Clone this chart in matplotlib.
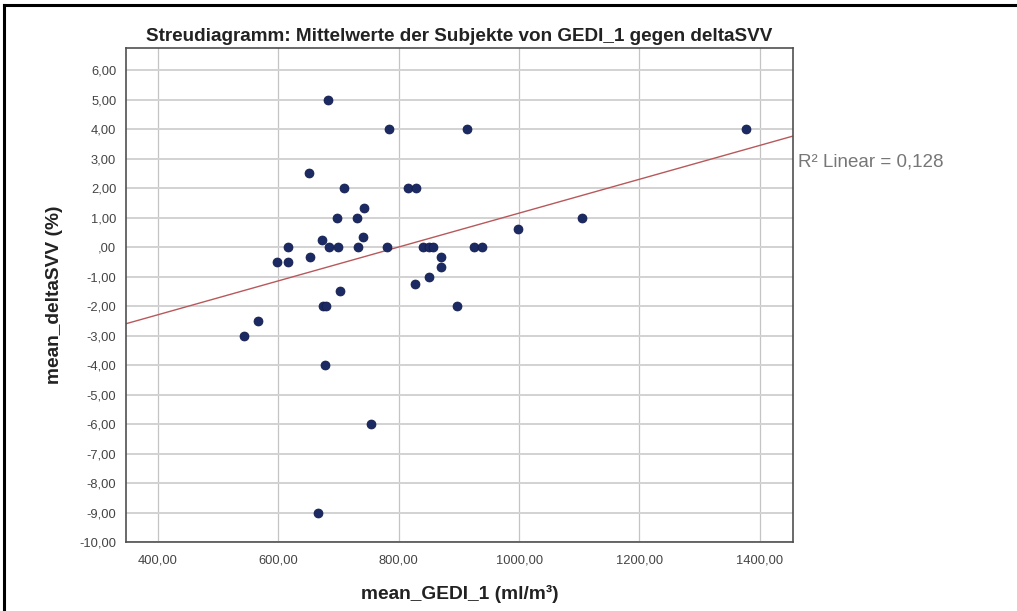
import numpy as np
import matplotlib
matplotlib.use("Agg")
import matplotlib.pyplot as plt
from matplotlib.ticker import FuncFormatter, MultipleLocator
from matplotlib.lines import Line2D

# Mittelwerte pro Subjekt
gedi = [543, 566, 598, 616, 616, 651, 652, 666, 672, 674, 680, 677, 683, 684,
        697, 699, 702, 709, 730, 732, 741, 742, 754, 780, 784, 816, 829, 827,
        840, 850, 857, 850, 870, 870, 897, 913, 925, 938, 998, 1104, 1377]
delta_svv = [-3.0, -2.5, -0.5, -0.5, 0.0, 2.5, -0.33, -9.0, 0.25, -2.0, -2.0,
             -4.0, 5.0, 0.0, 1.0, 0.0, -1.5, 2.0, 1.0, 0.0, 0.33, 1.33, -6.0,
             0.0, 4.0, 2.0, 2.0, -1.25, 0.0, 0.0, 0.0, -1.0, -0.33, -0.67,
             -2.0, 4.0, 0.0, 0.0, 0.6, 1.0, 4.0]
r2_linear = 0.128

titel = "Streudiagramm: Mittelwerte der Subjekte von GEDI_1 gegen deltaSVV"
x_label = "mean_GEDI_1 (ml/m³)"
y_label = "mean_deltaSVV (%)"


def komma(v, pos=None):
    # SPSS-Stil: Dezimalkomma, führende Null weglassen
    s = f"{v:.2f}".replace(".", ",")
    if s.startswith("0,"):
        s = s[1:]
    if s == "-0,00":
        s = ",00"
    return s


plt.rcParams["font.family"] = ["Liberation Sans", "DejaVu Sans"]

fig = plt.figure(figsize=(10.17, 6.11), dpi=100)
ax = fig.add_axes([0.1239, 0.1129, 0.6558, 0.8085])

xlim = (347, 1455)
ax.set_xlim(*xlim)
ax.set_ylim(-10, 6.75)

# Gitter
ax.xaxis.set_major_locator(MultipleLocator(200))
ax.yaxis.set_major_locator(MultipleLocator(1))
ax.grid(axis="y", color="#d2d2d2", linewidth=1.4, zorder=0)
ax.grid(axis="x", color="#c4c4c4", linewidth=0.9, zorder=0)
ax.set_axisbelow(True)

# Regressionsgerade
steigung, achse = np.polyfit(gedi, delta_svv, 1)
xs = np.array(xlim)
ax.plot(xs, achse + steigung * xs, color="#b8585a", linewidth=1.0, zorder=2)

ax.scatter(gedi, delta_svv, s=42, color="#1c2a63", edgecolors="#101a4a",
           linewidths=0.5, zorder=3)

ax.xaxis.set_major_formatter(FuncFormatter(komma))
ax.yaxis.set_major_formatter(FuncFormatter(komma))
ax.tick_params(length=0, labelsize=9.3, labelcolor="#444444")
ax.tick_params(axis="x", pad=9)
ax.tick_params(axis="y", pad=7)

for sp in ax.spines.values():
    sp.set_color("#505050")
    sp.set_linewidth(1.2)

ax.set_title(titel, fontsize=13.6, fontweight="bold", color="#222222", pad=5)
ax.set_xlabel(x_label, fontsize=13.8, fontweight="bold", color="#222222", labelpad=13)
ax.set_ylabel(y_label, fontsize=13.8, fontweight="bold", color="#222222", labelpad=12)

r2_text = "R² Linear = " + f"{r2_linear:.3f}".replace(".", ",")
ax.text(1.008, 0.769, r2_text, transform=ax.transAxes, fontsize=13.5,
        color="#777777", va="center", ha="left")

# Rahmen oben und links
fig.add_artist(Line2D([0.004, 1.0], [0.992, 0.992], color="black", linewidth=2.2,
                      transform=fig.transFigure))
fig.add_artist(Line2D([0.004, 0.004], [0.0, 0.992], color="black", linewidth=2.2,
                      transform=fig.transFigure))

fig.savefig("out.png", dpi=100, facecolor="white")
